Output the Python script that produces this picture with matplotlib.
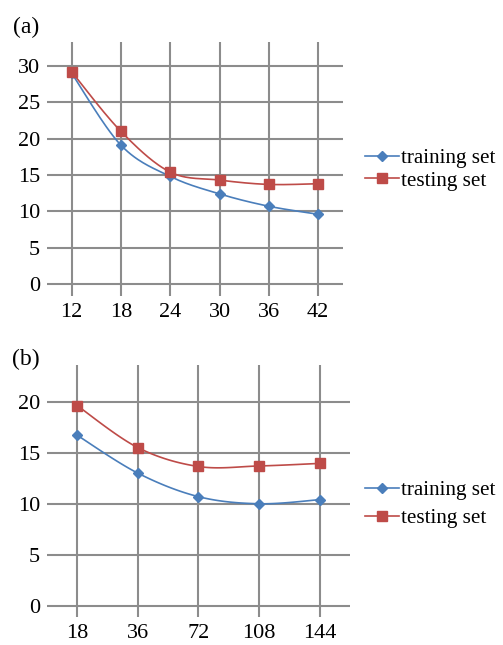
import numpy as np
import matplotlib.pyplot as plt
from matplotlib.lines import Line2D

plt.rcParams['font.family'] = ['Liberation Serif', 'DejaVu Serif']

# panel (a)
cats_a = ['12', '18', '24', '30', '36', '42']
train_a = [29.0, 19.1, 14.8, 12.4, 10.7, 9.6]
test_a = [29.2, 21.0, 15.4, 14.3, 13.7, 13.8]
yticks_a = [0, 5, 10, 15, 20, 25, 30]

# panel (b)
cats_b = ['18', '36', '72', '108', '144']
train_b = [16.7, 13.0, 10.7, 10.0, 10.4]
test_b = [19.6, 15.5, 13.65, 13.7, 13.95]
yticks_b = [0, 5, 10, 15, 20]

blue = '#4A7EBB'
red = '#BE4B48'
grid_c = '#8C8C8C'


def smooth(x, y, n=30):
    # Excel-like smoothed line: cubic Bezier with Catmull-Rom tangents
    x = np.asarray(x, float)
    y = np.asarray(y, float)
    xs, ys = [], []
    for i in range(len(x) - 1):
        i0 = max(i - 1, 0)
        i3 = min(i + 2, len(x) - 1)
        p0 = np.array([x[i], y[i]])
        p3 = np.array([x[i + 1], y[i + 1]])
        p1 = p0 + (p3 - np.array([x[i0], y[i0]])) / 6
        p2 = p3 - (np.array([x[i3], y[i3]]) - p0) / 6
        t = np.linspace(0, 1, n)[:, None]
        b = (1 - t) ** 3 * p0 + 3 * (1 - t) ** 2 * t * p1 + 3 * (1 - t) * t ** 2 * p2 + t ** 3 * p3
        xs.extend(b[:, 0])
        ys.extend(b[:, 1])
    return xs, ys


def panel(ax, cats, train, test, yticks, ylim):
    idx = np.arange(len(cats))
    ax.set_xlim(-0.5, len(cats) - 0.5)
    ax.set_ylim(*ylim)
    for s in ax.spines.values():
        s.set_visible(False)
    for v in yticks:
        ax.axhline(v, color=grid_c, lw=1.5, zorder=0)
    for i in idx:
        ax.axvline(i, color=grid_c, lw=1.5, zorder=0)
    xs, ys = smooth(idx, train)
    ax.plot(xs, ys, color=blue, lw=1.2, zorder=2)
    ax.plot(idx, train, ls='none', marker='D', ms=5, color=blue, zorder=3)
    xs, ys = smooth(idx, test)
    ax.plot(xs, ys, color=red, lw=1.2, zorder=2)
    ax.plot(idx, test, ls='none', marker='s', ms=7, color=red, zorder=3)
    ax.set_xticks(idx)
    ax.set_xticklabels(cats)
    ax.set_yticks(yticks)
    ax.tick_params(length=0, labelsize=16, pad=5)


fig = plt.figure(figsize=(5.03, 6.45), dpi=100)
ax1 = fig.add_axes([0.0934, 0.541, 0.588, 0.394])
ax2 = fig.add_axes([0.0934, 0.0434, 0.602, 0.391])
panel(ax1, cats_a, train_a, test_a, yticks_a, (-1.65, 33.3))
panel(ax2, cats_b, train_b, test_b, yticks_b, (-1.08, 23.6))
fig.text(26 / 503, 1 - 27 / 645, '(a)', fontsize=17, ha='center', va='center')
fig.text(26 / 503, 1 - 359 / 645, '(b)', fontsize=17, ha='center', va='center')

handles = [Line2D([], [], color=blue, lw=1.2, marker='D', ms=5),
           Line2D([], [], color=red, lw=1.2, marker='s', ms=7)]
labels = ['training set', 'testing set']
for y, sp in ((0.737, 0.12), (0.218, 0.38)):
    fig.legend(handles, labels, loc='center left', bbox_to_anchor=(0.726, y),
               frameon=False, fontsize=15.2, handlelength=1.6, handletextpad=0.1,
               labelspacing=sp, borderaxespad=0, borderpad=0)

fig.savefig('out.png', dpi=100)
